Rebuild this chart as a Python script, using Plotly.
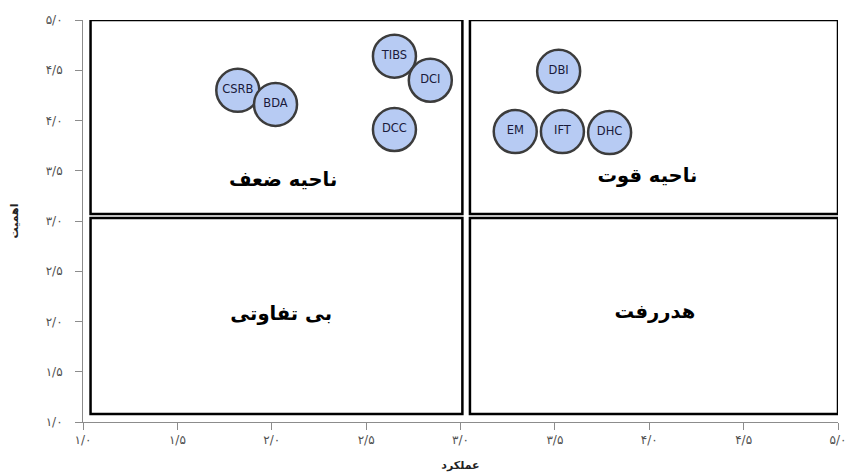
import plotly.graph_objects as go

# Data
names = ["CSRB", "BDA", "TIBS", "DCI", "DCC", "DBI", "EM", "IFT", "DHC"]
performance = [1.82, 2.02, 2.65, 2.84, 2.65, 3.52, 3.29, 3.54, 3.79]
importance = [4.30, 4.16, 4.64, 4.40, 3.91, 4.49, 3.89, 3.89, 3.88]

tick_vals = [1.0, 1.5, 2.0, 2.5, 3.0, 3.5, 4.0, 4.5, 5.0]
tick_text = ["۱/۰", "۱/۵", "۲/۰", "۲/۵", "۳/۰", "۳/۵", "۴/۰", "۴/۵", "۵/۰"]

# Quadrant boxes: (x0, x1, y0, y1) and labels
quad_x0 = [1.04, 3.05, 1.04, 3.05]
quad_x1 = [3.01, 5.0, 3.01, 5.0]
quad_y0 = [3.07, 3.07, 1.08, 1.08]
quad_y1 = [5.0, 5.0, 3.03, 3.03]
quad_labels = ["ناحیه ضعف", "ناحیه قوت", "بی تفاوتی", "هدررفت"]
quad_label_x = [2.06, 3.99, 2.05, 4.03]
quad_label_y = [3.40, 3.44, 2.06, 2.08]

fig = go.Figure()

shapes = []
for x0, x1, y0, y1 in zip(quad_x0, quad_x1, quad_y0, quad_y1):
    shapes.append(dict(type="rect", xref="x", yref="y", x0=x0, x1=x1, y0=y0, y1=y1,
                       line=dict(color="black", width=2.5), fillcolor="rgba(0,0,0,0)",
                       layer="below"))

fig.add_trace(go.Scatter(
    x=performance, y=importance, mode="markers+text", text=names,
    textposition="middle center",
    textfont=dict(family="DejaVu Sans", size=11.5, color="#1a1a3a"),
    marker=dict(size=43, color="#B7CBF3", line=dict(color="#3c3c3c", width=2.5)),
    hoverinfo="text", showlegend=False, cliponaxis=False,
))

fig.add_trace(go.Scatter(
    x=quad_label_x, y=quad_label_y, mode="text", text=quad_labels,
    textfont=dict(family="DejaVu Sans", size=19.5, color="black", weight="bold"),
    showlegend=False, hoverinfo="skip",
))

# the page body has an 8px margin, so the figure is sized/offset to compensate
fig.update_layout(
    width=845, height=468,
    margin=dict(l=75, r=15, t=12, b=54),
    paper_bgcolor="white", plot_bgcolor="white",
    shapes=shapes,
    xaxis=dict(range=[1, 5], tickvals=tick_vals, ticktext=tick_text, automargin=False,
               showgrid=False, zeroline=False, showline=True, linecolor="#8c8c8c",
               linewidth=1, ticks="outside", ticklen=7, tickcolor="#8c8c8c",
               tickfont=dict(family="DejaVu Sans", size=12, color="#505050"),
               title=dict(text="<b>عملکرد</b>", font=dict(family="DejaVu Sans", size=11, color="#222"),
                          standoff=14)),
    yaxis=dict(range=[1, 5], tickvals=tick_vals, ticktext=tick_text, automargin=False,
               showgrid=False, zeroline=False, showline=True, linecolor="#8c8c8c",
               linewidth=1, ticks="outside", ticklen=7, tickcolor="#8c8c8c",
               ticklabelstandoff=10,
               tickfont=dict(family="DejaVu Sans", size=12, color="#505050"),
               title=dict(text="<b>اهمیت</b>", font=dict(family="DejaVu Sans", size=11, color="#222"),
                          standoff=26)),
)

fig.write_html("out.html")
